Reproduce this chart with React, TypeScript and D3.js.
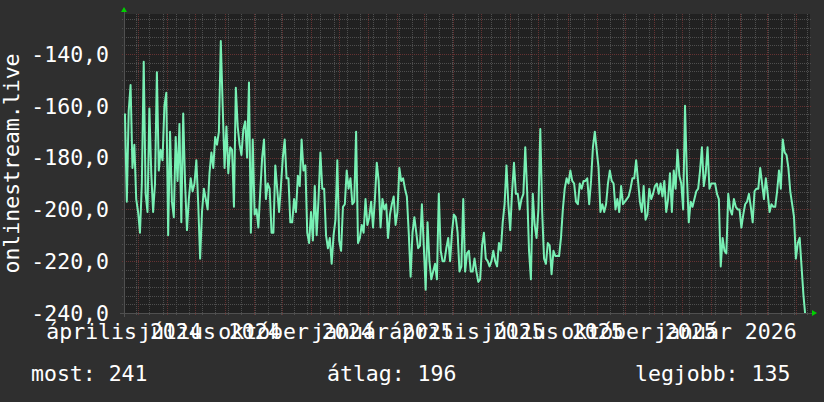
import React, { Component } from "react";
import * as d3 from "d3";

// rank of the site, one reading every 2 days starting 17 april 2024
const ranks_2024_a = [
  163, 197, 162, 152, 184, 175, 196, 201, 209, 190, 143, 194, 201, 161, 186, 201, 190, 147, 185, 177,
  181, 160, 155, 210, 170, 197, 203, 172, 189, 167, 205, 163, 190, 208, 196, 188, 193, 190, 181, 198,
  219, 201, 192, 196, 200, 186, 178, 184, 172, 175, 170, 135, 160, 184, 168, 186, 176, 177, 199, 153,
  168,
];
const ranks_2024_b = [
  175, 179, 169, 166, 180, 151, 209, 173, 202, 200, 207, 193, 180, 173, 196, 190, 192, 209, 209, 183,
  192, 201, 191, 180, 173, 188, 188, 205, 205, 196, 201, 187, 191, 173, 185, 183, 209, 213, 201, 212,
  191, 210, 196, 178, 192, 192, 210, 215, 211, 221, 210, 204, 181, 212, 216, 199, 198, 185, 192, 188,
  198,
];
const ranks_2025_a = [
  197, 170, 213, 211, 206, 209, 196, 206, 203, 197, 207, 196, 182, 189, 207, 196, 200, 198, 211, 202,
  198, 195, 206, 201, 184, 189, 188, 192, 195, 209, 226, 209, 203, 209, 215, 214, 198, 214, 231, 205,
  220, 227, 224, 221, 227, 194, 216, 220, 220, 215, 211, 220, 209, 202, 203, 209, 224, 222, 196, 224,
  217, 216,
];
const ranks_2025_b = [
  224, 224, 219, 224, 228, 227, 214, 209, 219, 220, 222, 220, 216, 220, 222, 213, 216, 205, 198, 183,
  198, 208, 193, 182, 194, 194, 200, 196, 194, 176, 193, 216, 227, 194, 206, 211, 200, 169, 201, 219,
  221, 213, 214, 225, 216, 218, 218, 218, 211, 200, 192, 188, 190, 185, 189, 190, 197, 198, 190, 192,
  189, 189,
];
const ranks_2025_c = [
  188, 198, 189, 176, 170, 177, 184, 201, 198, 201, 198, 190, 185, 189, 190, 200, 196, 201, 191, 198,
  197, 196, 195, 192, 188, 188, 181, 189, 197, 201, 191, 204, 202, 192, 196, 194, 191, 190, 194, 190,
  195, 189, 201, 196, 186, 201, 185, 192, 177, 187, 190, 200, 160, 187, 205, 197, 199, 196, 193, 192,
  185, 176,
];
const ranks_2026 = [
  191, 186, 176, 192, 190, 190, 190, 194, 196, 222, 211, 216, 217, 194, 200, 202, 196, 199, 200, 200,
  207, 202, 198, 197, 194, 199, 205, 193, 192, 192, 184, 190, 196, 188, 194, 201, 198, 199, 199, 193,
  185, 192, 173, 178, 179, 184, 193, 198, 203, 219, 213, 211, 222, 233, 241,
];
const rank_values = [
  ...ranks_2024_a, ...ranks_2024_b, ...ranks_2025_a, ...ranks_2025_b, ...ranks_2025_c, ...ranks_2026,
];

const y_ticks = [-240, -220, -200, -180, -160, -140];
const month_names = [
  "január", "február", "március", "április", "május", "június",
  "július", "augusztus", "szeptember", "október", "november", "december",
];
const axis_title = "onlinestream.live";
const legend_labels = ["most", "átlag", "legjobb"];
const legend_values = [241, 196, 135];

class App extends Component {
  componentDidMount() {
    this.draw();
  }

  draw() {
    var width = 824,
      height = 402;
    var x0 = 124,
      x1 = 810,
      y0 = 313,
      y1 = 14;
    var font = "'DejaVu Sans Mono', monospace";
    var font_size = "21.5px";
    var minor_col = "#4e4e4e",
      major_col = "#653232";

    var start = new Date(2024, 3, 16),
      end = new Date(2026, 3, 16),
      data_start = new Date(2024, 3, 17);
    var data = rank_values.map((r, i) => ({
      date: d3.timeDay.offset(data_start, i * 2),
      value: -r,
    }));

    const x_scale = d3.scaleTime().domain([start, end]).range([x0, x1]);
    const y_scale = d3.scaleLinear().domain([-240, -124.55]).range([y0, y1]);

    const num_fmt = d3
      .formatLocale({ decimal: ",", thousands: " ", grouping: [3], currency: ["", ""], minus: "-" })
      .format(".1f");
    const time_fmt = d3
      .timeFormatLocale({
        dateTime: "%Y. %B %-d. %X",
        date: "%Y. %m. %d.",
        time: "%H:%M:%S",
        periods: ["de.", "du."],
        days: ["vasárnap", "hétfő", "kedd", "szerda", "csütörtök", "péntek", "szombat"],
        shortDays: ["V", "H", "K", "Sze", "Cs", "P", "Szo"],
        months: month_names,
        shortMonths: month_names.map((m) => m.slice(0, 3)),
      })
      .format("%B %Y");

    var svg = d3
      .select(".chart_svg")
      .attr("width", width)
      .attr("height", height)
      .style("display", "block");

    svg.selectAll("*").remove();

    // backgrounds
    svg.append("rect").attr("width", width).attr("height", height).attr("fill", "#2f2f2f");
    svg
      .append("rect")
      .attr("x", x0)
      .attr("y", y1)
      .attr("width", x1 - x0)
      .attr("height", y0 - y1)
      .attr("fill", "#212121");

    svg
      .append("clipPath")
      .attr("id", "canvas_clip")
      .append("rect")
      .attr("x", x0)
      .attr("y", y1)
      .attr("width", x1 - x0)
      .attr("height", y0 - y1);

    var grid = svg.append("g").attr("shape-rendering", "crispEdges");

    // minor grid
    var minor_y = d3.range(-240, -124, 20 / 6).filter((v) => Math.abs(v % 20) > 0.01);
    var minor_x = d3.timeMonday
      .range(new Date(2024, 3, 15), end, 2)
      .filter((d) => d > start);
    grid
      .selectAll(".minor_h")
      .data(minor_y)
      .join("line")
      .attr("x1", x0 - 2)
      .attr("x2", x1 + 2)
      .attr("y1", (d) => Math.round(y_scale(d)) + 0.5)
      .attr("y2", (d) => Math.round(y_scale(d)) + 0.5)
      .attr("stroke", minor_col)
      .attr("stroke-dasharray", "1,1");
    grid
      .selectAll(".minor_v")
      .data(minor_x)
      .join("line")
      .attr("x1", (d) => Math.round(x_scale(d)) + 0.5)
      .attr("x2", (d) => Math.round(x_scale(d)) + 0.5)
      .attr("y1", y1)
      .attr("y2", y0 + 2)
      .attr("stroke", minor_col)
      .attr("stroke-dasharray", "1,1");

    // major grid
    var major_x = d3.timeMonth.range(start, end);
    grid
      .selectAll(".major_h")
      .data(y_ticks)
      .join("line")
      .attr("x1", x0 - 2)
      .attr("x2", x1 + 2)
      .attr("y1", (d) => Math.round(y_scale(d)) + 0.5)
      .attr("y2", (d) => Math.round(y_scale(d)) + 0.5)
      .attr("stroke", major_col)
      .attr("stroke-dasharray", "1,1");
    grid
      .selectAll(".major_v")
      .data(major_x)
      .join("line")
      .attr("x1", (d) => Math.round(x_scale(d)) + 0.5)
      .attr("x2", (d) => Math.round(x_scale(d)) + 0.5)
      .attr("y1", y1)
      .attr("y2", y0 + 2)
      .attr("stroke", major_col)
      .attr("stroke-dasharray", "1,1");

    // the series
    const line = d3
      .line<{ date: Date; value: number }>()
      .x((d) => x_scale(d.date))
      .y((d) => y_scale(d.value));
    svg
      .append("path")
      .datum(data)
      .attr("clip-path", "url(#canvas_clip)")
      .attr("d", line)
      .attr("fill", "none")
      .attr("stroke", "#78f0b4")
      .attr("stroke-width", 2)
      .attr("stroke-linejoin", "round");

    // axes
    grid
      .append("line")
      .attr("x1", x0 - 4)
      .attr("x2", x1 + 4)
      .attr("y1", y0 + 0.5)
      .attr("y2", y0 + 0.5)
      .attr("stroke", "#505050");
    grid
      .append("line")
      .attr("x1", x0 + 0.5)
      .attr("x2", x0 + 0.5)
      .attr("y1", y0 + 4)
      .attr("y2", y1 - 4)
      .attr("stroke", "#505050");

    // arrows
    svg
      .append("path")
      .attr("d", d3.line()([[x1 + 2, y0 - 3], [x1 + 2, y0 + 3], [x1 + 7, y0]]))
      .attr("fill", "#00d000");
    svg
      .append("path")
      .attr("d", d3.line()([[x0 - 3, y1 - 2], [x0 + 3, y1 - 2], [x0, y1 - 7]]))
      .attr("fill", "#00d000");

    var text = svg
      .append("g")
      .style("font-family", font)
      .style("font-size", font_size)
      .attr("fill", "#ffffff");

    // y labels
    text
      .selectAll(".y_label")
      .data(y_ticks)
      .join("text")
      .attr("x", 109)
      .attr("y", (d) => y_scale(d) + 7.7)
      .attr("text-anchor", "end")
      .text((d) => num_fmt(d));

    // x labels, centred 15 days after the quarter start
    var label_dates = d3.timeMonth.every(3)!.range(new Date(2024, 3, 1), new Date(2026, 3, 1));
    text
      .selectAll(".x_label")
      .data(label_dates)
      .join("text")
      .attr("x", (d) => x_scale(d3.timeDay.offset(d, 15)))
      .attr("y", 339)
      .attr("text-anchor", "middle")
      .text((d) => time_fmt(d));

    // y title
    text
      .append("text")
      .attr("transform", `translate(18.5,${(y0 + y1) / 2}) rotate(-90)`)
      .attr("text-anchor", "middle")
      .text(axis_title);

    // legend
    var legend_x = [31, 327, 635];
    text
      .selectAll(".legend")
      .data(legend_labels)
      .join("text")
      .attr("x", (d, i) => legend_x[i])
      .attr("y", 381)
      .text((d, i) => `${d}: ${legend_values[i]}`);
  }

  render() {
    return (
      <div style={{ position: "absolute", left: 0, top: 0 }}>
        <svg className="chart_svg"></svg>
      </div>
    );
  }
}

export default App;
